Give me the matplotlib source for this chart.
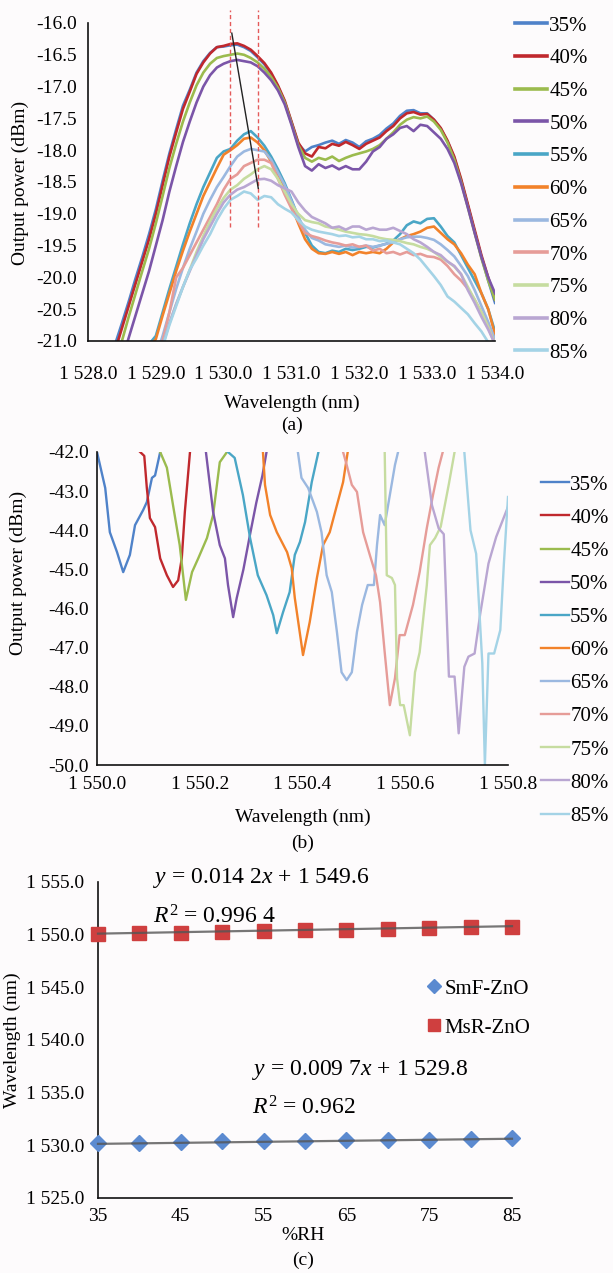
import numpy as np
import matplotlib
matplotlib.use("Agg")
import matplotlib.pyplot as plt
from matplotlib.ticker import FuncFormatter, MultipleLocator

plt.rcParams['font.family'] = ['Liberation Serif', 'DejaVu Serif']
plt.rcParams['mathtext.fontset'] = 'custom'
plt.rcParams['mathtext.rm'] = 'Liberation Serif'
plt.rcParams['mathtext.it'] = 'Liberation Serif:italic'
plt.rcParams['axes.unicode_minus'] = False

# ---------------- data ----------------
labels = ['35%', '40%', '45%', '50%', '55%', '60%', '65%', '70%', '75%', '80%', '85%']
colors = ['#4f82c9', '#c0282d', '#9bbb4e', '#7b55a8', '#4aa6c6', '#f2822a',
          '#9bb8e0', '#e69c98', '#c6dca0', '#b9a6d2', '#a4d3e6']

# Panel (a): wavelength grid 1528.4 ... 1534.0, step 0.1 nm
a_wl = [1528.4, 1528.5, 1528.6, 1528.7, 1528.8, 1528.9, 1529.0, 1529.1, 1529.2, 1529.3,
        1529.4, 1529.5, 1529.6, 1529.7, 1529.8, 1529.9, 1530.0, 1530.1, 1530.2, 1530.3,
        1530.4, 1530.5, 1530.6, 1530.7, 1530.8, 1530.9, 1531.0, 1531.1, 1531.2, 1531.3,
        1531.4, 1531.5, 1531.6, 1531.7, 1531.8, 1531.9, 1532.0, 1532.1, 1532.2, 1532.3,
        1532.4, 1532.5, 1532.6, 1532.7, 1532.8, 1532.9, 1533.0, 1533.1, 1533.2, 1533.3,
        1533.4, 1533.5, 1533.6, 1533.7, 1533.8, 1533.9, 1534.0]
a_35 = [-21.05, -20.72, -20.38, -20.02, -19.68, -19.32, -18.93, -18.48, -18.05, -17.67,
        -17.3, -17.05, -16.78, -16.6, -16.47, -16.38, -16.37, -16.35, -16.34, -16.38,
        -16.44, -16.54, -16.65, -16.8, -17.0, -17.24, -17.56, -17.9, -18.02, -17.95,
        -17.92, -17.88, -17.85, -17.9, -17.84, -17.88, -17.95, -17.86, -17.82, -17.76,
        -17.66, -17.58, -17.46, -17.38, -17.37, -17.42, -17.42, -17.52, -17.66, -17.86,
        -18.12, -18.47, -18.87, -19.28, -19.68, -20.05, -20.4]
a_40 = [-21.15, -20.8, -20.45, -20.1, -19.75, -19.4, -19.0, -18.55, -18.1, -17.72,
        -17.35, -17.08, -16.8, -16.62, -16.48, -16.38, -16.36, -16.33, -16.32, -16.36,
        -16.42, -16.52, -16.63, -16.78, -16.98, -17.22, -17.55, -17.88, -18.05, -18.1,
        -17.95, -17.97, -17.9, -17.93, -17.87, -17.92, -17.98, -17.9, -17.85, -17.8,
        -17.7, -17.62, -17.5, -17.42, -17.4, -17.44, -17.43, -17.52, -17.65, -17.85,
        -18.1, -18.45, -18.85, -19.25, -19.65, -20.0, -20.35]
a_45 = [-21.35, -21.0, -20.62, -20.26, -19.9, -19.55, -19.15, -18.72, -18.28, -17.9,
        -17.55, -17.25, -16.98, -16.78, -16.64, -16.55, -16.52, -16.5, -16.48, -16.5,
        -16.55, -16.62, -16.72, -16.85, -17.02, -17.25, -17.58, -17.92, -18.12, -18.18,
        -18.12, -18.15, -18.1, -18.17, -18.12, -18.08, -18.05, -18.02, -17.98, -17.92,
        -17.82, -17.72, -17.6, -17.52, -17.48, -17.5, -17.47, -17.55, -17.68, -17.88,
        -18.15, -18.5, -18.9, -19.3, -19.7, -20.05, -20.35]
a_50 = [-21.7, -21.3, -20.95, -20.6, -20.25, -19.9, -19.5, -19.1, -18.65, -18.25,
        -17.87, -17.55, -17.25, -17.0, -16.82, -16.7, -16.64, -16.6, -16.58, -16.6,
        -16.62, -16.68, -16.78, -16.9, -17.06, -17.28, -17.6, -17.95, -18.25, -18.32,
        -18.22, -18.28, -18.24, -18.3, -18.25, -18.3, -18.3, -18.18, -18.02, -17.95,
        -17.82, -17.75, -17.65, -17.62, -17.7, -17.6, -17.62, -17.72, -17.82, -17.98,
        -18.2, -18.52, -18.9, -19.3, -19.68, -20.0, -20.25]
a_55 = [-23.0, -22.6, -22.2, -21.8, -21.4, -21.05, -20.92, -20.55, -20.18, -19.83,
        -19.48, -19.15, -18.85, -18.58, -18.35, -18.12, -18.02, -17.98, -17.85, -17.75,
        -17.7, -17.8, -17.93, -18.1, -18.3, -18.52, -18.78, -19.05, -19.3, -19.5,
        -19.6, -19.62, -19.58, -19.6, -19.55, -19.57, -19.55, -19.52, -19.53, -19.5,
        -19.47, -19.42, -19.32, -19.18, -19.12, -19.15, -19.08, -19.07, -19.2, -19.35,
        -19.45, -19.65, -19.85, -20.05, -20.25, -20.5, -20.85]
a_60 = [-23.0, -22.6, -22.2, -21.8, -21.4, -21.1, -20.97, -20.6, -20.25, -19.9,
        -19.58, -19.28, -19.0, -18.72, -18.5, -18.28, -18.07, -18.0, -17.92, -17.82,
        -17.8, -17.88, -18.0, -18.18, -18.4, -18.62, -18.88, -19.15, -19.4, -19.55,
        -19.62, -19.63, -19.6, -19.63, -19.6, -19.65, -19.6, -19.62, -19.6, -19.62,
        -19.55, -19.45, -19.4, -19.35, -19.32, -19.28, -19.22, -19.2, -19.3, -19.4,
        -19.48, -19.62, -19.8, -19.95, -20.25, -20.5, -20.9]
a_65 = [-23.5, -23.1, -22.7, -22.3, -21.9, -21.5, -21.25, -20.92, -20.55, -20.18,
        -19.85, -19.55, -19.28, -19.0, -18.78, -18.58, -18.42, -18.25, -18.1, -18.02,
        -17.98, -18.0, -18.02, -18.15, -18.35, -18.55, -18.8, -19.05, -19.25, -19.38,
        -19.42, -19.48, -19.5, -19.52, -19.5, -19.53, -19.52, -19.5, -19.52, -19.5,
        -19.47, -19.45, -19.4, -19.37, -19.36, -19.36, -19.38, -19.41, -19.48, -19.57,
        -19.67, -19.82, -19.98, -20.2, -20.45, -20.7, -20.98]
a_70 = [-23.6, -23.2, -22.8, -22.4, -22.0, -21.65, -21.32, -21.0, -20.55, -20.0,
        -19.85, -19.65, -19.45, -19.25, -19.05, -18.85, -18.62, -18.45, -18.38, -18.25,
        -18.2, -18.15, -18.15, -18.2, -18.45, -18.7, -18.92, -19.12, -19.3, -19.35,
        -19.38, -19.42, -19.45, -19.47, -19.5, -19.48, -19.52, -19.5, -19.58, -19.55,
        -19.62, -19.6, -19.64, -19.6, -19.65, -19.63, -19.67, -19.68, -19.72, -19.82,
        -19.95, -20.05, -20.18, -20.35, -20.55, -20.78, -21.05]
a_75 = [-23.7, -23.3, -22.9, -22.5, -22.1, -21.75, -21.4, -21.07, -20.72, -20.42,
        -20.15, -19.88, -19.6, -19.35, -19.12, -18.92, -18.75, -18.62, -18.55, -18.45,
        -18.38, -18.3, -18.25, -18.3, -18.45, -18.65, -18.85, -19.0, -19.1, -19.13,
        -19.15, -19.2, -19.22, -19.25, -19.28, -19.3, -19.32, -19.33, -19.35, -19.38,
        -19.4, -19.41, -19.43, -19.46, -19.48, -19.52, -19.55, -19.6, -19.68, -19.75,
        -19.83, -19.95, -20.15, -20.35, -20.55, -20.78, -21.05]
a_80 = [-23.8, -23.4, -23.0, -22.6, -22.2, -21.8, -21.45, -21.07, -20.72, -20.42,
        -20.15, -19.9, -19.65, -19.4, -19.2, -19.0, -18.82, -18.7, -18.62, -18.58,
        -18.52, -18.46, -18.45, -18.48, -18.55, -18.6, -18.65, -18.82, -18.95, -19.05,
        -19.1, -19.15, -19.22, -19.2, -19.25, -19.2, -19.2, -19.25, -19.22, -19.25,
        -19.25, -19.22, -19.27, -19.32, -19.4, -19.45, -19.52, -19.6, -19.65, -19.75,
        -19.82, -19.95, -20.2, -20.4, -20.62, -20.82, -21.05]
a_85 = [-23.8, -23.4, -23.0, -22.6, -22.2, -21.8, -21.45, -21.1, -20.75, -20.45,
        -20.15, -19.88, -19.7, -19.5, -19.32, -19.1, -18.92, -18.78, -18.72, -18.65,
        -18.68, -18.78, -18.72, -18.74, -18.85, -18.92, -18.98, -19.1, -19.2, -19.25,
        -19.28, -19.3, -19.32, -19.35, -19.34, -19.37, -19.36, -19.4, -19.4, -19.43,
        -19.42, -19.45, -19.48, -19.55, -19.62, -19.72, -19.85, -19.98, -20.12, -20.3,
        -20.38, -20.48, -20.58, -20.72, -20.85, -21.02, -21.2]
a_series = [a_35, a_40, a_45, a_50, a_55, a_60, a_65, a_70, a_75, a_80, a_85]

# peak-shift guides in panel (a)
a_guide_wl = [1530.1, 1530.5]
a_guide_lo, a_guide_hi = -19.2, -15.8
a_arrow_wl = [1530.12, 1530.51]
a_arrow_p = [-16.16, -18.6]

# Panel (b): each series has its own wavelength samples
b_x = [
    [1550.0, 1550.016, 1550.025, 1550.039, 1550.051, 1550.064, 1550.074, 1550.09, 1550.097, 1550.107, 1550.113, 1550.123],
    [1550.084, 1550.092, 1550.097, 1550.103, 1550.113, 1550.123, 1550.136, 1550.148, 1550.158, 1550.165, 1550.171, 1550.181],
    [1550.123, 1550.136, 1550.148, 1550.161, 1550.173, 1550.185, 1550.197, 1550.214, 1550.226, 1550.239, 1550.253],
    [1550.212, 1550.226, 1550.239, 1550.249, 1550.255, 1550.265, 1550.272, 1550.285, 1550.298, 1550.31, 1550.322, 1550.33],
    [1550.255, 1550.268, 1550.284, 1550.298, 1550.313, 1550.33, 1550.343, 1550.35, 1550.362, 1550.375, 1550.385, 1550.395, 1550.405, 1550.418, 1550.431],
    [1550.323, 1550.327, 1550.337, 1550.35, 1550.37, 1550.379, 1550.385, 1550.401, 1550.414, 1550.428, 1550.44, 1550.453, 1550.467, 1550.479, 1550.488],
    [1550.391, 1550.398, 1550.411, 1550.428, 1550.437, 1550.447, 1550.457, 1550.467, 1550.476, 1550.486, 1550.496, 1550.506, 1550.516, 1550.527, 1550.539, 1550.545, 1550.551, 1550.56, 1550.57, 1550.58, 1550.586],
    [1550.479, 1550.486, 1550.496, 1550.506, 1550.518, 1550.531, 1550.543, 1550.551, 1550.56, 1550.57, 1550.58, 1550.589, 1550.599, 1550.615, 1550.628, 1550.642, 1550.654, 1550.665, 1550.673],
    [1550.56, 1550.564, 1550.574, 1550.58, 1550.584, 1550.59, 1550.597, 1550.609, 1550.619, 1550.628, 1550.642, 1550.648, 1550.658, 1550.669, 1550.685, 1550.696],
    [1550.638, 1550.652, 1550.665, 1550.675, 1550.685, 1550.696, 1550.704, 1550.715, 1550.723, 1550.735, 1550.746, 1550.762, 1550.777, 1550.8],
    [1550.715, 1550.727, 1550.738, 1550.75, 1550.755, 1550.762, 1550.773, 1550.785, 1550.792, 1550.8],
]
b_y = [
    [-42.0, -42.92, -44.05, -44.56, -45.07, -44.63, -43.87, -43.48, -43.28, -42.66, -42.6, -42.0],
    [-42.0, -42.1, -42.92, -43.69, -43.92, -44.72, -45.15, -45.45, -45.28, -44.72, -43.53, -42.0],
    [-42.0, -42.4, -43.36, -44.38, -45.78, -45.07, -44.72, -44.2, -43.61, -42.26, -42.0],
    [-42.0, -43.53, -44.38, -44.72, -45.4, -46.22, -45.73, -45.0, -44.1, -43.3, -42.6, -42.0],
    [-42.0, -42.15, -43.1, -44.2, -45.15, -45.66, -46.17, -46.63, -46.1, -45.58, -44.63, -44.3, -43.79, -42.77, -42.0],
    [-42.0, -42.84, -43.61, -44.05, -44.56, -44.97, -45.73, -47.19, -46.35, -45.22, -44.38, -44.05, -43.36, -42.77, -42.0],
    [-42.0, -42.66, -42.92, -43.53, -44.05, -45.15, -45.58, -46.6, -47.63, -47.83, -47.63, -46.6, -45.91, -45.4, -45.4, -44.38, -43.61, -43.87, -43.1, -42.33, -42.0],
    [-42.0, -42.33, -42.84, -43.02, -44.05, -44.63, -45.15, -45.84, -47.12, -48.47, -47.78, -46.68, -46.68, -45.91, -45.07, -43.94, -43.1, -42.4, -42.0],
    [-42.0, -45.15, -45.22, -45.4, -47.78, -48.47, -48.47, -49.24, -47.63, -47.12, -45.4, -44.38, -44.2, -43.91, -42.81, -42.0],
    [-42.0, -43.36, -43.95, -44.1, -47.74, -47.74, -49.19, -47.49, -47.23, -47.15, -46.13, -44.85, -44.17, -43.4],
    [-42.0, -44.0, -44.6, -47.4, -50.0, -47.15, -47.15, -46.55, -44.85, -43.15],
]

# Panel (c)
rh = [35, 40, 45, 50, 55, 60, 65, 70, 75, 80, 85]
smf_zno = [1530.2, 1530.25, 1530.3, 1530.38, 1530.4, 1530.45, 1530.5, 1530.5, 1530.52, 1530.6, 1530.72]
msr_zno = [1550.05, 1550.15, 1550.17, 1550.26, 1550.35, 1550.40, 1550.49, 1550.57, 1550.61, 1550.70, 1550.75]
fit_smf = (0.0097, 1529.8)
fit_msr = (0.0142, 1549.6)

# ---------------- figure ----------------
W, H = 613, 1273
fig = plt.figure(figsize=(W / 100, H / 100), dpi=100, facecolor='#fdfbfc')


def box(l, t, r, b):
    return [l / W, 1 - b / H, (r - l) / W, (b - t) / H]


def style(ax):
    ax.set_facecolor('none')
    for s in ('top', 'right'):
        ax.spines[s].set_visible(False)
    for s in ('left', 'bottom'):
        ax.spines[s].set_linewidth(1.2)
        ax.spines[s].set_color('#111111')
    ax.tick_params(length=0, labelsize=14)


thousand = lambda v, p: ('%.1f' % v).replace('15', '1 5', 1)

# ---- (a)
axa = fig.add_axes(box(88, 23, 495, 341))
style(axa)
handles = []
for y, c, lab in zip(a_series, colors, labels):
    h, = axa.plot(a_wl, y, color=c, lw=1.9, label=lab)
    handles.append(h)
for g in a_guide_wl:
    axa.plot([g, g], [a_guide_lo, a_guide_hi], color='#e45a5a', lw=1.0,
             ls=(0, (3, 2)), clip_on=False)
axa.plot(a_arrow_wl, a_arrow_p, color='#222222', lw=1.0)
axa.set_xlim(1528, 1534)
axa.set_ylim(-21, -16)
axa.xaxis.set_major_locator(MultipleLocator(1))
axa.yaxis.set_major_locator(MultipleLocator(0.5))
axa.xaxis.set_major_formatter(FuncFormatter(thousand))
axa.yaxis.set_major_formatter(FuncFormatter(lambda v, p: '%.1f' % v))
axa.tick_params(axis='x', pad=18)
axa.tick_params(axis='y', pad=8)
leg_a = fig.legend(handles=handles, loc='upper left', bbox_to_anchor=(515 / W, 1 - 16 / H),
                   frameon=False, fontsize=15, handlelength=1.55, handletextpad=0.1,
                   labelspacing=0.63, borderpad=0, borderaxespad=0)
for l in leg_a.get_lines():
    l.set_linewidth(2.6)
fig.text(20 / W, 1 - 183 / H, 'Output power (dBm)', rotation=90, ha='center', va='center', fontsize=14)
fig.text(292 / W, 1 - 403 / H, 'Wavelength (nm)', ha='center', va='center', fontsize=14)
fig.text(292 / W, 1 - 425 / H, '(a)', ha='center', va='center', fontsize=14)

# ---- (b)
axb = fig.add_axes(box(97, 452, 508, 765))
style(axb)
hb = []
for x, y, c, lab in zip(b_x, b_y, colors, labels):
    h, = axb.plot(x, y, color=c, lw=1.7, label=lab)
    hb.append(h)
axb.set_xlim(1550.0, 1550.8)
axb.set_ylim(-50, -42)
axb.xaxis.set_major_locator(MultipleLocator(0.2))
axb.yaxis.set_major_locator(MultipleLocator(1))
axb.xaxis.set_major_formatter(FuncFormatter(thousand))
axb.yaxis.set_major_formatter(FuncFormatter(lambda v, p: '%.1f' % v))
axb.tick_params(axis='x', pad=8)
axb.tick_params(axis='y', pad=6)
fig.legend(handles=hb, loc='upper left', bbox_to_anchor=(541 / W, 1 - 475 / H),
           frameon=False, fontsize=15, handlelength=1.35, handletextpad=0.05,
           labelspacing=0.65, borderpad=0, borderaxespad=0)
fig.text(18 / W, 1 - 573 / H, 'Output power (dBm)', rotation=90, ha='center', va='center', fontsize=14)
fig.text(303 / W, 1 - 817 / H, 'Wavelength (nm)', ha='center', va='center', fontsize=14)
fig.text(303 / W, 1 - 843 / H, '(b)', ha='center', va='center', fontsize=14)

# ---- (c)
axc = fig.add_axes(box(98, 882, 512, 1198))
style(axc)
axc.plot(rh, smf_zno, ls='none', marker='D', ms=8.5, color='#5b8ad0', label='SmF-ZnO', clip_on=False, zorder=3)
axc.plot(rh, msr_zno, ls='none', marker='s', ms=10.5, color='#cf3f3f', label='MsR-ZnO', clip_on=False, zorder=3)
xr = np.array([rh[0], rh[-1]])
axc.plot(xr, fit_smf[0] * xr + fit_smf[1], color='#555555', lw=1.6, alpha=0.8, zorder=4, clip_on=False)
axc.plot(xr, fit_msr[0] * xr + fit_msr[1], color='#555555', lw=1.6, alpha=0.8, zorder=4, clip_on=False)
axc.set_xlim(35, 85)
axc.set_ylim(1525, 1555)
axc.set_xticks([35, 45, 55, 65, 75, 85])
axc.yaxis.set_major_locator(MultipleLocator(5))
axc.yaxis.set_major_formatter(FuncFormatter(thousand))
axc.tick_params(axis='x', pad=7)
axc.tick_params(axis='y', pad=10)
axc.legend(loc='upper left', bbox_to_anchor=(428 / W, 1 - 979 / H), bbox_transform=fig.transFigure,
           frameon=False, fontsize=15, handlelength=0.6, handletextpad=0.2,
           labelspacing=0.93, borderpad=0, borderaxespad=0, markerscale=0.85)
fig.text(153 / W, 1 - 878 / H, r'$y$ = 0.014 2$x$ + 1 549.6', ha='left', va='center', fontsize=17)
fig.text(153 / W, 1 - 917 / H, r'$R^2$ = 0.996 4', ha='left', va='center', fontsize=17)
fig.text(252 / W, 1 - 1070 / H, r'$y$ = 0.009 7$x$ + 1 529.8', ha='left', va='center', fontsize=17)
fig.text(252 / W, 1 - 1108 / H, r'$R^2$ = 0.962', ha='left', va='center', fontsize=17)
fig.text(12 / W, 1 - 1040 / H, 'Wavelength (nm)', rotation=90, ha='center', va='center', fontsize=14)
fig.text(303 / W, 1 - 1235 / H, '%RH', ha='center', va='center', fontsize=14)
fig.text(303 / W, 1 - 1260 / H, '(c)', ha='center', va='center', fontsize=14)

fig.savefig('out.png', dpi=100, facecolor=fig.get_facecolor())
